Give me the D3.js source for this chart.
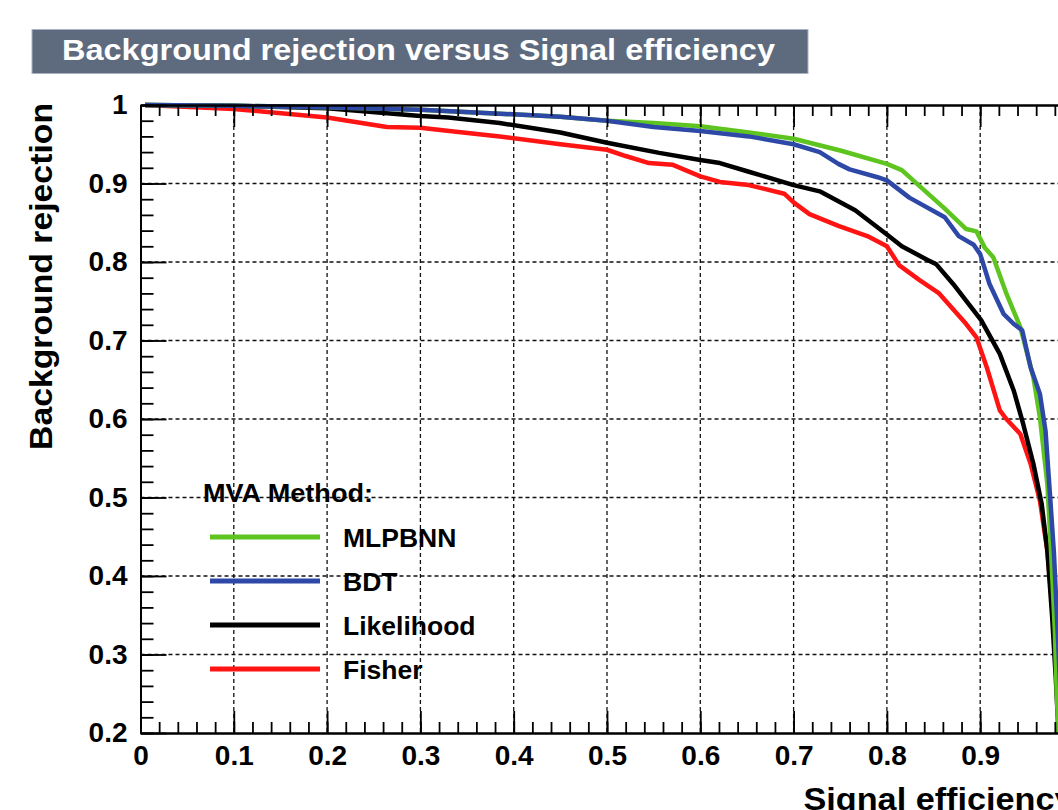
<!DOCTYPE html>
<html>
<head>
<meta charset="utf-8">
<script src="https://cdn.jsdelivr.net/npm/d3@7"></script>
<style>
  body { margin: 0; background: #fff; overflow: hidden; }
  svg { display: block; font-family: "Liberation Sans", Arial, Helvetica, sans-serif; }
</style>
</head>
<body>
<div id="container"></div>
<script>
/* DATA */
const methods = ["MLPBNN", "BDT", "Likelihood", "Fisher"];
const colors = ["#5ec41f", "#2d48a6", "#000000", "#ff1414"];

const mlpbnnEff = [0.005, 0.1, 0.2, 0.3, 0.385, 0.45, 0.5, 0.55, 0.6, 0.652, 0.7, 0.75, 0.8, 0.816, 0.83, 0.862, 0.885, 0.896, 0.905, 0.914, 0.928, 0.943, 0.957, 0.964, 0.972, 0.976, 0.98, 0.982, 0.984];
const mlpbnnRej = [1.0, 0.999, 0.997, 0.994, 0.989, 0.985, 0.98, 0.977, 0.973, 0.965, 0.957, 0.942, 0.925, 0.917, 0.902, 0.868, 0.842, 0.839, 0.818, 0.806, 0.76, 0.717, 0.653, 0.602, 0.517, 0.43, 0.33, 0.25, 0.2];

const bdtEff = [0.005, 0.1, 0.2, 0.3, 0.385, 0.45, 0.5, 0.55, 0.6, 0.652, 0.7, 0.728, 0.748, 0.76, 0.79, 0.8, 0.824, 0.862, 0.877, 0.893, 0.9, 0.91, 0.925, 0.936, 0.945, 0.954, 0.964, 0.97, 0.975, 0.979, 0.983, 0.986, 0.988];
const bdtRej = [1.0, 0.999, 0.997, 0.994, 0.989, 0.985, 0.98, 0.972, 0.967, 0.96, 0.95, 0.94, 0.925, 0.918, 0.908, 0.904, 0.882, 0.857, 0.833, 0.822, 0.81, 0.772, 0.734, 0.721, 0.713, 0.666, 0.632, 0.585, 0.5, 0.43, 0.33, 0.25, 0.2];

const likelihoodEff = [0.005, 0.1, 0.2, 0.3, 0.33, 0.385, 0.45, 0.5, 0.556, 0.6, 0.621, 0.652, 0.7, 0.728, 0.766, 0.8, 0.816, 0.843, 0.853, 0.871, 0.901, 0.921, 0.936, 0.946, 0.957, 0.966, 0.972, 0.977, 0.981, 0.984];
const likelihoodRej = [1.0, 0.999, 0.996, 0.986, 0.984, 0.977, 0.965, 0.952, 0.939, 0.93, 0.926, 0.915, 0.898, 0.89, 0.866, 0.835, 0.82, 0.803, 0.797, 0.772, 0.726, 0.683, 0.636, 0.594, 0.543, 0.491, 0.432, 0.35, 0.27, 0.2];

const fisherEff = [0.005, 0.1, 0.2, 0.264, 0.3, 0.331, 0.385, 0.45, 0.5, 0.52, 0.545, 0.57, 0.6, 0.621, 0.652, 0.69, 0.7, 0.717, 0.748, 0.779, 0.8, 0.813, 0.835, 0.856, 0.885, 0.896, 0.907, 0.921, 0.928, 0.943, 0.954, 0.964, 0.972, 0.978, 0.982, 0.985];
const fisherRej = [1.0, 0.995, 0.984, 0.972, 0.971, 0.967, 0.96, 0.95, 0.943, 0.935, 0.926, 0.924, 0.909, 0.902, 0.898, 0.887, 0.876, 0.861, 0.846, 0.833, 0.82, 0.796, 0.777, 0.76, 0.721, 0.704, 0.666, 0.611, 0.6, 0.581, 0.543, 0.496, 0.432, 0.35, 0.27, 0.2];

const xTickValues = [0, 0.1, 0.2, 0.3, 0.4, 0.5, 0.6, 0.7, 0.8, 0.9, 1];
const xTickLabels = ["0", "0.1", "0.2", "0.3", "0.4", "0.5", "0.6", "0.7", "0.8", "0.9", ""];
const yTickValues = [0.2, 0.3, 0.4, 0.5, 0.6, 0.7, 0.8, 0.9, 1];
const yTickLabels = ["0.2", "0.3", "0.4", "0.5", "0.6", "0.7", "0.8", "0.9", "1"];

const titleText = "Background rejection versus Signal efficiency";
const xTitle = "Signal efficiency";
const yTitle = "Background rejection";
const legendHeader = "MVA Method:";

/* LAYOUT */
const width = 1058, height = 810;
const frame = { left: 140.5, right: 1073.5, top: 105, bottom: 733 };

const series = [
  { eff: mlpbnnEff, rej: mlpbnnRej },
  { eff: bdtEff, rej: bdtRej },
  { eff: likelihoodEff, rej: likelihoodRej },
  { eff: fisherEff, rej: fisherRej }
].map((s, i) => ({
  name: methods[i],
  color: colors[i],
  points: s.eff.map((e, j) => [e, s.rej[j]])
}));

const xScale = d3.scaleLinear().domain([0, 1]).range([frame.left, frame.right]);
const yScale = d3.scaleLinear().domain([0.2, 1]).range([frame.bottom, frame.top]);

const svg = d3.select("#container")
  .append("svg")
  .attr("width", width)
  .attr("height", height);

svg.append("rect").attr("width", width).attr("height", height).attr("fill", "#fff");

// title box
svg.append("rect")
  .attr("x", 32).attr("y", 29.5)
  .attr("width", 776).attr("height", 44)
  .attr("fill", "#5e6b7e")
  .attr("stroke", "#aab3c0")
  .attr("stroke-width", 1);

svg.append("text")
  .attr("x", 62).attr("y", 60)
  .attr("fill", "#fff")
  .attr("font-size", 29)
  .attr("font-weight", "bold")
  .attr("textLength", 713)
  .attr("lengthAdjust", "spacingAndGlyphs")
  .text(titleText);

// grid
const gridX = xTickValues.filter(v => v > 0 && v < 1);
const gridY = yTickValues.filter(v => v > 0.2 && v < 1);

svg.append("g")
  .selectAll("line")
  .data(gridX)
  .join("line")
  .attr("x1", d => xScale(d)).attr("x2", d => xScale(d))
  .attr("y1", frame.top).attr("y2", frame.bottom)
  .attr("stroke", "#111")
  .attr("stroke-width", 1.3)
  .attr("stroke-dasharray", "4,3");

svg.append("g")
  .selectAll("line")
  .data(gridY)
  .join("line")
  .attr("x1", frame.left).attr("x2", frame.right)
  .attr("y1", d => yScale(d)).attr("y2", d => yScale(d))
  .attr("stroke", "#111")
  .attr("stroke-width", 1.3)
  .attr("stroke-dasharray", "4,3");

// curves
svg.append("defs")
  .append("clipPath")
  .attr("id", "frame-clip")
  .append("rect")
  .attr("x", frame.left - 10).attr("y", frame.top - 10)
  .attr("width", frame.right - frame.left + 10)
  .attr("height", frame.bottom - frame.top + 10);

const line = d3.line()
  .x(d => xScale(d[0]))
  .y(d => yScale(d[1]));

const drawOrder = [3, 2, 0, 1];
svg.append("g")
  .attr("clip-path", "url(#frame-clip)")
  .selectAll("path")
  .data(drawOrder.map(i => series[i]))
  .join("path")
  .attr("d", d => line(d.points))
  .attr("fill", "none")
  .attr("stroke", d => d.color)
  .attr("stroke-width", 4.5)
  .attr("stroke-linejoin", "round");

// axes
const minorX = d3.range(0, 1.0001, 0.02);
const minorY = d3.range(0.2, 1.0001, 0.02);
const xLabel = d => xTickLabels[xTickValues.indexOf(d)];
const yLabel = d => yTickLabels[yTickValues.indexOf(d)];

function styleAxis(g) {
  g.select(".domain").attr("stroke-width", 2);
  g.selectAll(".tick line").attr("stroke-width", 1.8);
  g.selectAll("text")
    .attr("font-size", 28)
    .attr("font-weight", "bold")
    .attr("font-family", "Liberation Sans, Arial, sans-serif")
    .attr("fill", "#000");
}

// bottom
svg.append("g")
  .attr("transform", `translate(0,${frame.bottom})`)
  .call(d3.axisBottom(xScale).tickValues(minorX).tickSize(-11).tickFormat("").tickSizeOuter(0))
  .call(styleAxis);
svg.append("g")
  .attr("transform", `translate(0,${frame.bottom})`)
  .call(d3.axisBottom(xScale).tickValues(xTickValues).tickSize(-22).tickPadding(12).tickFormat(xLabel).tickSizeOuter(0))
  .call(styleAxis);

// top
svg.append("g")
  .attr("transform", `translate(0,${frame.top})`)
  .call(d3.axisTop(xScale).tickValues(minorX).tickSize(-11).tickFormat("").tickSizeOuter(0))
  .call(styleAxis);
svg.append("g")
  .attr("transform", `translate(0,${frame.top})`)
  .call(d3.axisTop(xScale).tickValues(xTickValues).tickSize(-22).tickFormat("").tickSizeOuter(0))
  .call(styleAxis);

// left
svg.append("g")
  .attr("transform", `translate(${frame.left},0)`)
  .call(d3.axisLeft(yScale).tickValues(minorY).tickSize(-13).tickFormat("").tickSizeOuter(0))
  .call(styleAxis);
svg.append("g")
  .attr("transform", `translate(${frame.left},0)`)
  .call(d3.axisLeft(yScale).tickValues(yTickValues).tickSize(-26).tickPadding(13).tickFormat(yLabel).tickSizeOuter(0))
  .call(styleAxis);

// axis titles
svg.append("text")
  .attr("x", frame.right).attr("y", 810)
  .attr("text-anchor", "end")
  .attr("font-size", 31)
  .attr("font-weight", "bold")
  .attr("textLength", 270)
  .attr("lengthAdjust", "spacingAndGlyphs")
  .text(xTitle);

svg.append("text")
  .attr("transform", `translate(52,${frame.top - 2}) rotate(-90)`)
  .attr("text-anchor", "end")
  .attr("font-size", 32)
  .attr("font-weight", "bold")
  .attr("textLength", 347)
  .attr("lengthAdjust", "spacingAndGlyphs")
  .text(yTitle);

// legend
const legend = svg.append("g");
legend.append("text")
  .attr("x", 203).attr("y", 502)
  .attr("font-size", 25)
  .attr("font-weight", "bold")
  .attr("textLength", 170)
  .attr("lengthAdjust", "spacingAndGlyphs")
  .text(legendHeader);

const legendRow = d3.scalePoint().domain(methods).range([537, 669]);

legend.selectAll(".lg-line")
  .data(series)
  .join("line")
  .attr("class", "lg-line")
  .attr("x1", 210).attr("x2", 320)
  .attr("y1", d => legendRow(d.name)).attr("y2", d => legendRow(d.name))
  .attr("stroke", d => d.color)
  .attr("stroke-width", 5);

legend.selectAll(".lg-text")
  .data(series)
  .join("text")
  .attr("class", "lg-text")
  .attr("x", 343)
  .attr("y", d => legendRow(d.name) + 10)
  .attr("font-size", 26.5)
  .attr("font-weight", "bold")
  .text(d => d.name);
</script>
</body>
</html>
